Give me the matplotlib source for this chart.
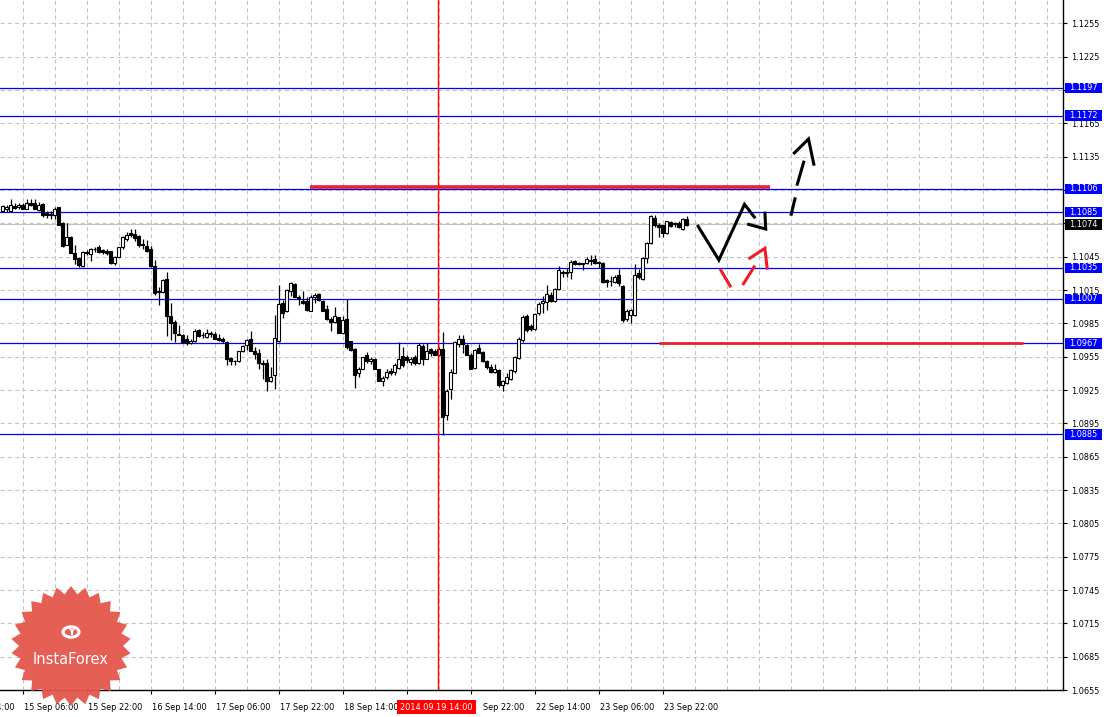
import matplotlib
matplotlib.use("Agg")
import matplotlib.pyplot as plt
import numpy as np
from matplotlib.patches import Polygon, Rectangle, Circle
from matplotlib.transforms import blended_transform_factory

# ---------------- data (EURUSD-like H1 candles) -------------
opens = [1.10858, 1.10882, 1.10858, 1.10906, 1.10894, 1.10918, 1.10882, 1.10936, 1.10930, 1.10870,
         1.10924, 1.10840, 1.10834, 1.10822, 1.10894, 1.10750, 1.10558, 1.10630, 1.10480, 1.10438,
         1.10366, 1.10492, 1.10474, 1.10522, 1.10534, 1.10510, 1.10504, 1.10498, 1.10390, 1.10450,
         1.10540, 1.10612, 1.10660, 1.10654, 1.10636, 1.10564, 1.10546, 1.10522, 1.10366, 1.10144,
         1.10132, 1.10246, 1.09916, 1.09862, 1.09754, 1.09742, 1.09706, 1.09676, 1.09694, 1.09790,
         1.09748, 1.09730, 1.09754, 1.09754, 1.09718, 1.09706, 1.09682, 1.09538, 1.09514, 1.09514,
         1.09604, 1.09652, 1.09706, 1.09604, 1.09586, 1.09493, 1.09490, 1.09334, 1.09382, 1.09694,
         1.10036, 1.09958, 1.10144, 1.10204, 1.10084, 1.10054, 1.10054, 1.09964, 1.10090, 1.10114,
         1.10054, 1.09976, 1.09892, 1.09862, 1.09904, 1.09760, 1.09886, 1.09688, 1.09622, 1.09400,
         1.09442, 1.09562, 1.09514, 1.09532, 1.09436, 1.09328, 1.09364, 1.09424, 1.09412, 1.09448,
         1.09556, 1.09544, 1.09502, 1.09544, 1.09496, 1.09646, 1.09532, 1.09616, 1.09604, 1.09568,
         1.09622, 1.09022, 1.09256, 1.09406, 1.09664, 1.09706, 1.09658, 1.09568, 1.09448, 1.09628,
         1.09592, 1.09508, 1.09460, 1.09412, 1.09430, 1.09292, 1.09316, 1.09352, 1.09418, 1.09538,
         1.09700, 1.09916, 1.09826, 1.09802, 1.09940, 1.10030, 1.10042, 1.10108, 1.10048, 1.10162,
         1.10312, 1.10300, 1.10312, 1.10414, 1.10390, 1.10390, 1.10390, 1.10420, 1.10432, 1.10402,
         1.10390, 1.10240, 1.10234, 1.10222, 1.10282, 1.10186, 1.09892, 1.09922, 1.09922, 1.10300,
         1.10246, 1.10438, 1.10570, 1.10798, 1.10738, 1.10732, 1.10660, 1.10762, 1.10750, 1.10756,
         1.10696, 1.10786]
highs = [1.10912, 1.10912, 1.10966, 1.10930, 1.10930, 1.10930, 1.10966, 1.10972, 1.10972, 1.10942,
         1.10936, 1.10858, 1.10858, 1.10894, 1.10900, 1.10762, 1.10750, 1.10636, 1.10552, 1.10450,
         1.10504, 1.10510, 1.10528, 1.10534, 1.10558, 1.10522, 1.10522, 1.10504, 1.10456, 1.10540,
         1.10636, 1.10672, 1.10702, 1.10702, 1.10648, 1.10606, 1.10600, 1.10546, 1.10420, 1.10180,
         1.10246, 1.10312, 1.10030, 1.09880, 1.09832, 1.09754, 1.09748, 1.09712, 1.09796, 1.09802,
         1.09772, 1.09796, 1.09784, 1.09772, 1.09754, 1.09730, 1.09694, 1.09550, 1.09520, 1.09604,
         1.09658, 1.09712, 1.09784, 1.09634, 1.09616, 1.09520, 1.09526, 1.09454, 1.09922, 1.10198,
         1.10060, 1.10162, 1.10222, 1.10210, 1.10108, 1.10144, 1.10084, 1.10108, 1.10120, 1.10120,
         1.10060, 1.10012, 1.09910, 1.09994, 1.09910, 1.09916, 1.10066, 1.09694, 1.09628, 1.09460,
         1.09550, 1.09592, 1.09544, 1.09538, 1.09442, 1.09376, 1.09442, 1.09448, 1.09496, 1.09682,
         1.09640, 1.09562, 1.09550, 1.09562, 1.09670, 1.09664, 1.09670, 1.09628, 1.09616, 1.09634,
         1.09772, 1.09262, 1.09436, 1.09694, 1.09748, 1.09748, 1.09664, 1.09580, 1.09622, 1.09664,
         1.09598, 1.09520, 1.09484, 1.09484, 1.09436, 1.09340, 1.09406, 1.09436, 1.09556, 1.09724,
         1.09922, 1.09934, 1.09844, 1.09940, 1.10042, 1.10096, 1.10198, 1.10132, 1.10168, 1.10366,
         1.10330, 1.10348, 1.10420, 1.10420, 1.10402, 1.10396, 1.10444, 1.10468, 1.10468, 1.10414,
         1.10402, 1.10252, 1.10276, 1.10282, 1.10342, 1.10192, 1.09976, 1.09982, 1.10384, 1.10336,
         1.10444, 1.10582, 1.10828, 1.10828, 1.10750, 1.10738, 1.10774, 1.10768, 1.10762, 1.10774,
         1.10798, 1.10816]
lows = [1.10852, 1.10852, 1.10852, 1.10876, 1.10882, 1.10876, 1.10876, 1.10906, 1.10876, 1.10858,
        1.10804, 1.10798, 1.10786, 1.10786, 1.10732, 1.10540, 1.10552, 1.10480, 1.10384, 1.10354,
        1.10354, 1.10462, 1.10414, 1.10492, 1.10486, 1.10474, 1.10468, 1.10384, 1.10378, 1.10444,
        1.10522, 1.10594, 1.10630, 1.10588, 1.10540, 1.10516, 1.10492, 1.10354, 1.10108, 1.10012,
        1.10126, 1.09736, 1.09700, 1.09682, 1.09742, 1.09670, 1.09652, 1.09664, 1.09682, 1.09724,
        1.09718, 1.09718, 1.09730, 1.09706, 1.09688, 1.09670, 1.09472, 1.09472, 1.09472, 1.09502,
        1.09592, 1.09610, 1.09598, 1.09526, 1.09436, 1.09352, 1.09244, 1.09322, 1.09262, 1.09682,
        1.09898, 1.09952, 1.10096, 1.10084, 1.10018, 1.10024, 1.09958, 1.09958, 1.10036, 1.10054,
        1.09958, 1.09880, 1.09778, 1.09850, 1.09760, 1.09754, 1.09622, 1.09598, 1.09268, 1.09364,
        1.09436, 1.09496, 1.09484, 1.09436, 1.09328, 1.09286, 1.09352, 1.09388, 1.09382, 1.09442,
        1.09460, 1.09496, 1.09478, 1.09478, 1.09484, 1.09472, 1.09526, 1.09556, 1.09562, 1.09556,
        1.08845, 1.08980, 1.09172, 1.09400, 1.09634, 1.09580, 1.09562, 1.09436, 1.09442, 1.09580,
        1.09502, 1.09442, 1.09400, 1.09400, 1.09274, 1.09244, 1.09304, 1.09340, 1.09406, 1.09532,
        1.09682, 1.09772, 1.09784, 1.09790, 1.09922, 1.09940, 1.09970, 1.10042, 1.10042, 1.10150,
        1.10264, 1.10264, 1.10246, 1.10378, 1.10378, 1.10330, 1.10384, 1.10378, 1.10384, 1.10348,
        1.10210, 1.10174, 1.10186, 1.10210, 1.10186, 1.09862, 1.09874, 1.09856, 1.09916, 1.10246,
        1.10240, 1.10390, 1.10564, 1.10720, 1.10630, 1.10624, 1.10654, 1.10714, 1.10720, 1.10708,
        1.10690, 1.10726]
closes = [1.10906, 1.10894, 1.10912, 1.10888, 1.10918, 1.10882, 1.10930, 1.10918, 1.10882, 1.10912,
          1.10822, 1.10828, 1.10822, 1.10882, 1.10738, 1.10546, 1.10630, 1.10486, 1.10432, 1.10372,
          1.10492, 1.10480, 1.10522, 1.10516, 1.10492, 1.10492, 1.10486, 1.10396, 1.10444, 1.10534,
          1.10624, 1.10648, 1.10648, 1.10618, 1.10552, 1.10552, 1.10504, 1.10366, 1.10120, 1.10132,
          1.10240, 1.09916, 1.09850, 1.09760, 1.09748, 1.09682, 1.09676, 1.09694, 1.09778, 1.09736,
          1.09742, 1.09760, 1.09766, 1.09712, 1.09700, 1.09688, 1.09532, 1.09514, 1.09508, 1.09598,
          1.09646, 1.09700, 1.09604, 1.09574, 1.09490, 1.09484, 1.09328, 1.09370, 1.09718, 1.10024,
          1.09940, 1.10150, 1.10210, 1.10090, 1.10066, 1.10030, 1.09970, 1.10090, 1.10108, 1.10060,
          1.09964, 1.09886, 1.09862, 1.09916, 1.09766, 1.09880, 1.09640, 1.09610, 1.09388, 1.09442,
          1.09544, 1.09508, 1.09532, 1.09442, 1.09334, 1.09358, 1.09412, 1.09406, 1.09472, 1.09526,
          1.09478, 1.09520, 1.09532, 1.09496, 1.09652, 1.09526, 1.09598, 1.09586, 1.09568, 1.09622,
          1.09010, 1.09244, 1.09412, 1.09682, 1.09712, 1.09664, 1.09568, 1.09442, 1.09610, 1.09586,
          1.09514, 1.09454, 1.09412, 1.09442, 1.09292, 1.09334, 1.09364, 1.09430, 1.09550, 1.09706,
          1.09904, 1.09790, 1.09796, 1.09934, 1.10024, 1.10054, 1.10114, 1.10048, 1.10156, 1.10330,
          1.10306, 1.10312, 1.10402, 1.10384, 1.10384, 1.10384, 1.10432, 1.10414, 1.10390, 1.10396,
          1.10222, 1.10222, 1.10228, 1.10264, 1.10210, 1.09880, 1.09958, 1.09970, 1.10282, 1.10264,
          1.10438, 1.10576, 1.10816, 1.10732, 1.10720, 1.10660, 1.10768, 1.10726, 1.10744, 1.10720,
          1.10792, 1.10738]

# x-axis labels as shown (None = hidden behind the cursor label)
time_labels = ["12 Sep 14:00", "15 Sep 06:00", "15 Sep 22:00", "16 Sep 14:00", "17 Sep 06:00",
               "17 Sep 22:00", "18 Sep 14:00", None, "Sep 22:00", "22 Sep 14:00",
               "23 Sep 06:00", "23 Sep 22:00"]
first_label_bar = -11
bars_per_label = 16

level_prices = [1.1197, 1.1172, 1.1106, 1.1085, 1.1035, 1.1007, 1.0967, 1.0885]
current_price = 1.1074
price_ticks = [round(1.0655 + 0.003 * k, 4) for k in range(21)]
hidden_ticks = [1.1195, 1.1105, 1.1075]

cursor_bar = 109
cursor_label = "2014.09.19 14:00"

# red support / resistance segments: (start bar, end bar, price)
red_segments = [(76.9, 191.9, 1.11078), (164.1, 255.1, 1.0967)]

# hand-drawn forecast strokes: lists of (bar, price)
black_strokes = [
    [(173.7, 1.10735), (179.1, 1.10420), (185.5, 1.10921), (188.2, 1.10795)],
    [(186.2, 1.10744), (190.8, 1.10699), (190.6, 1.10855)],
    [(197.1, 1.10819), (198.2, 1.10984)],
    [(198.6, 1.11089), (200.4, 1.11314)],
    [(197.7, 1.11374), (201.5, 1.11509), (202.9, 1.11269)],
]
red_strokes = [
    [(179.4, 1.10339), (182.1, 1.10174)],
    [(185.05, 1.10195), (188.1, 1.10369)],
    [(186.5, 1.10429), (190.6, 1.10525), (191.2, 1.10333)],
]

# ---------------- figure ----------------
W, H = 1104, 717
fig = plt.figure(figsize=(W / 100, H / 100), dpi=100)
fig.patch.set_facecolor("white")
plot_right, plot_bottom = 1063, 690
ax = fig.add_axes([0, (H - plot_bottom) / H, plot_right / W, plot_bottom / H])
ax.set_facecolor("white")

px_per_bar = 4.0
x0_px = 2.5
XLIM = (-x0_px / px_per_bar, (plot_right - x0_px) / px_per_bar)
YLIM = (1.06550, 1.12760)

for s in ["left", "top"]:
    ax.spines[s].set_visible(False)
for s in ["right", "bottom"]:
    ax.spines[s].set_color("black")
    ax.spines[s].set_linewidth(1.0)

FONT = "DejaVu Sans"
FS = 5.9

# grid
grid_kw = dict(color="#c4c4c4", lw=0.75, ls=(0, (4, 3)), zorder=1)
for gx in np.arange(5, 266, 8):
    ax.axvline(gx, **grid_kw)
for gy in price_ticks:
    ax.axhline(gy, **grid_kw)

# y ticks on the right
ax.yaxis.tick_right()
ax.set_yticks(price_ticks)
ax.set_yticklabels(["" if any(abs(t - h) < 1e-6 for h in hidden_ticks) else f"{t:.4f}" for t in price_ticks],
                   fontsize=FS, family=FONT)
ax.tick_params(axis="y", length=3, width=0.8, pad=2.5, colors="black")

# x ticks
n_lab = len(time_labels)
tick_pos = [first_label_bar + bars_per_label * k for k in range(n_lab)]
ax.set_xticks(tick_pos)
ax.set_xticklabels([""] * n_lab)
ax.tick_params(axis="x", length=3, width=0.8)
xtr = blended_transform_factory(ax.transData, fig.transFigure)
for p, lab in zip(tick_pos, time_labels):
    if lab is None:
        continue
    dx = 0.5 if lab[0].isdigit() else 3.2
    ax.text(p + dx, 1 - 707 / H, lab, transform=xtr, fontsize=FS, family=FONT,
            ha="left", va="center", clip_on=False, zorder=6)

# cursor line & label
ax.axvline(cursor_bar - 0.1, color="#ff0000", lw=1.0, zorder=4.6)
ax.text(cursor_bar - 0.5, 1 - 707 / H, cursor_label, transform=xtr, fontsize=FS, family=FONT,
        color="white", ha="center", va="center", clip_on=False, zorder=8,
        bbox=dict(boxstyle="square,pad=0.35", fc="#ff0000", ec="none"))

# blue horizontal levels
for lv in level_prices:
    ax.axhline(lv, color="#0000ff", lw=0.9, zorder=2)
ax.axhline(current_price, color="#c0c0c0", lw=0.8, zorder=1.5)

# red segments
ax.hlines([red_segments[0][2]], red_segments[0][0], red_segments[0][1], color="#e8212b", lw=2.6, zorder=5)
ax.hlines([red_segments[1][2]], red_segments[1][0], red_segments[1][1], color="#e8212b", lw=2.0, zorder=5)

# candles
o = np.array(opens); hi = np.array(highs); lo = np.array(lows); c = np.array(closes)
idx = np.arange(len(o))
up = c >= o
ax.vlines(idx, lo, hi, color="black", lw=0.9, zorder=3)
blo = np.minimum(o, c)
bh = np.maximum(np.abs(c - o), 0.000012)
ax.bar(idx[up], bh[up], bottom=blo[up], width=0.62, facecolor="white", edgecolor="black", linewidth=0.8, zorder=4)
ax.bar(idx[~up], bh[~up], bottom=blo[~up], width=0.62, facecolor="black", edgecolor="black", linewidth=0.8, zorder=4)

# strokes
for st in black_strokes:
    xs, ys = zip(*st)
    ax.plot(xs, ys, color="black", lw=2.2, solid_capstyle="butt", solid_joinstyle="miter", zorder=6)
for st in red_strokes:
    xs, ys = zip(*st)
    ax.plot(xs, ys, color="#ee1c25", lw=2.2, solid_capstyle="butt", solid_joinstyle="miter", zorder=6)

# price labels on the right
ytr = blended_transform_factory(ax.transAxes, ax.transData)
box_x0 = 1065 / plot_right
box_w = 37 / plot_right
box_h = 10.5 / 11111.0

def price_box(price, fc):
    ax.add_patch(Rectangle((box_x0, price - box_h / 2), box_w, box_h, transform=ytr,
                           facecolor=fc, edgecolor="none", clip_on=False, zorder=7))
    ax.text(1069 / plot_right, price, f"{price:.4f}", transform=ytr, color="white",
            fontsize=FS, family=FONT, ha="left", va="center", clip_on=False, zorder=8)

for lv in level_prices:
    price_box(lv, "#0000ff")
price_box(current_price, "black")

ax.set_xlim(*XLIM)
ax.set_ylim(*YLIM)

# InstaForex badge
cx, cy, r_out, r_in, n_teeth = 71, 646, 60, 52, 26
ang = np.linspace(0, 2 * np.pi, 2 * n_teeth, endpoint=False) + np.pi / 2
rad = np.where(np.arange(2 * n_teeth) % 2 == 0, r_out, r_in)
pts = np.column_stack([(cx + rad * np.cos(ang)) / W, 1 - (cy - rad * np.sin(ang)) / H])
fig.patches.append(Polygon(pts, closed=True, transform=fig.transFigure, facecolor="#e5564c",
                           edgecolor="none", alpha=0.95, zorder=10))
fig.patches.append(Circle((cx / W, 1 - 632 / H), 8 / W, transform=fig.transFigure,
                          facecolor="none", edgecolor="white", lw=2.2, zorder=11))
fig.text(cx / W, 1 - 632 / H, "Y", color="white", fontsize=8, fontweight="bold",
         ha="center", va="center", zorder=12)
fig.text(cx / W, 1 - 659 / H, "InstaForex", color="white", fontsize=10.5,
         family="DejaVu Sans", ha="center", va="center", zorder=12)

fig.savefig("out.png", dpi=100)
